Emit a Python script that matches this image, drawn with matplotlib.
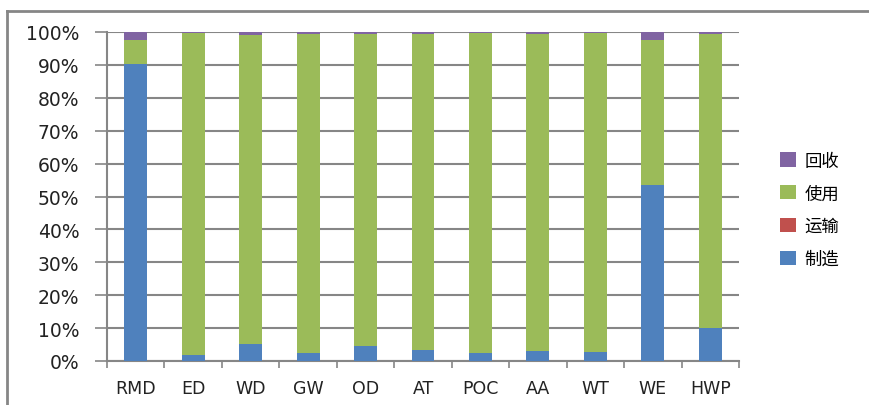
import numpy as np
import matplotlib
matplotlib.use("Agg")
import matplotlib.pyplot as plt
from matplotlib.lines import Line2D

plt.rcParams['font.family'] = ['Noto Sans CJK SC', 'DejaVu Sans']

# data (percent of total per stage)
categories = ["RMD", "ED", "WD", "GW", "OD", "AT", "POC", "AA", "WT", "WE", "HWP"]
manufacture = [90.3, 1.8, 5.2, 2.5, 4.6, 3.4, 2.5, 3.1, 2.8, 53.5, 10.0]
transport = [0.0, 0.0, 0.0, 0.0, 0.0, 0.0, 0.0, 0.0, 0.0, 0.0, 0.0]
recycle = [2.4, 0.2, 1.0, 0.6, 0.6, 0.6, 0.2, 0.6, 0.2, 2.4, 0.6]
use = [100 - m - t - r for m, t, r in zip(manufacture, transport, recycle)]
series_names = ["制造", "运输", "使用", "回收"]
colors = ["#4F81BD", "#C0504D", "#9BBB59", "#8064A2"]

fig = plt.figure(figsize=(8.69, 4.06), dpi=100)
W, H = 869, 406
ax = fig.add_axes([107 / W, 1 - 362 / H, (739 - 107) / W, (362 - 33) / H])

x = np.arange(len(categories))
bottom = np.zeros(len(categories))
for vals, name, c in zip([manufacture, transport, use, recycle], series_names, colors):
    ax.bar(x, vals, width=0.4, bottom=bottom, color=c, label=name, zorder=3)
    bottom += np.array(vals)

ax.set_xlim(-0.5, len(categories) - 0.5)
ax.set_ylim(0, 100)
ax.set_yticks(np.arange(0, 101, 10))
ax.set_yticklabels([f"{v}%" for v in range(0, 101, 10)], fontsize=13.5, family=['DejaVu Sans'],
                   color="#222222")
ax.set_xticks(x)
ax.set_xticklabels(categories, fontsize=12.5, family=['DejaVu Sans'], color="#222222")
ax.tick_params(axis='x', length=0, pad=13)
ax.tick_params(axis='y', length=9, width=1.2, color="#868686", pad=11)
# category boundary ticks below the axis
ax.set_xticks(np.arange(-0.5, len(categories), 1), minor=True)
ax.tick_params(axis='x', which='minor', length=5, width=1.2, color="#868686")

ax.grid(axis='y', color="#868686", linewidth=1.5, zorder=0)
for s in ["top", "right"]:
    ax.spines[s].set_visible(False)
for s in ["left", "bottom"]:
    ax.spines[s].set_color("#868686")
    ax.spines[s].set_linewidth(1.5)

handles, labels = ax.get_legend_handles_labels()
ax.legend(handles[::-1], labels[::-1], loc="center left", bbox_to_anchor=(1.04, 0.46),
          frameon=False, fontsize=12.5, handlelength=0.9, handleheight=0.9,
          labelspacing=0.85, handletextpad=0.5)

# outer chart border (top and left)
fig.add_artist(Line2D([7 / W, 7 / W], [0, 1 - 12 / H], transform=fig.transFigure,
                      color="#868686", linewidth=2))
fig.add_artist(Line2D([7 / W, 1], [1 - 12 / H, 1 - 12 / H], transform=fig.transFigure,
                      color="#868686", linewidth=2))

fig.savefig("out.png", dpi=100)
